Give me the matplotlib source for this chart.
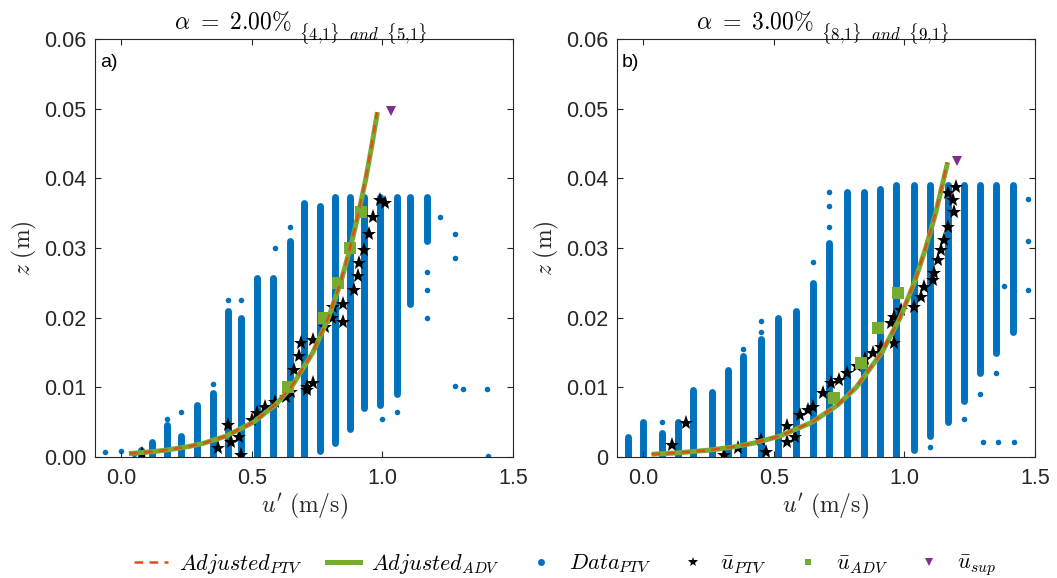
import matplotlib
matplotlib.use("Agg")
import matplotlib.pyplot as plt
from matplotlib.lines import Line2D

plt.rcParams["font.family"] = ["Liberation Sans", "DejaVu Sans"]
plt.rcParams["mathtext.fontset"] = "cm"

BLUE = "#0072BD"
ORANGE = "#D95319"
GREEN = "#77AC30"
PURPLE = "#7E2F8E"
INK = "#262626"

# ---------------- panel a) alpha = 2.00 % ----------------
a_fit_z = [0.0005, 0.00075, 0.001, 0.0015, 0.002, 0.003, 0.005, 0.0075, 0.01,
           0.015, 0.02, 0.025, 0.03, 0.035, 0.04, 0.045, 0.0495]
a_fit_ptv_u = [0.03, 0.114, 0.173, 0.257, 0.317, 0.40, 0.506, 0.59, 0.65,
               0.733, 0.793, 0.839, 0.876, 0.908, 0.936, 0.960, 0.98]
a_fit_adv_u = [0.03, 0.115, 0.174, 0.258, 0.318, 0.401, 0.507, 0.591, 0.651,
               0.734, 0.794, 0.840, 0.877, 0.909, 0.937, 0.961, 0.981]

# PTV measurement columns: position u and vertical extent
a_col_u = [0.076, 0.12, 0.175, 0.23, 0.29, 0.35, 0.41, 0.46, 0.52, 0.58, 0.645,
           0.70, 0.76, 0.82, 0.875, 0.93, 0.99, 1.055, 1.105, 1.17]
a_col_zlo = [0.0, 0.0, 0.0, 0.0, 0.0, 0.0, 0.0, 0.0, 0.0, 0.0, 0.0,
             0.0, 0.0008, 0.002, 0.004, 0.007, 0.0075, 0.009, 0.022, 0.031]
a_col_zhi = [0.001, 0.0022, 0.0046, 0.003, 0.0075, 0.0092, 0.021, 0.020, 0.0257,
             0.0257, 0.031, 0.0364, 0.036, 0.0373, 0.0373, 0.0373, 0.0373, 0.0373,
             0.0373, 0.0373]
# isolated PTV samples
a_pts_u = [-0.06, 0.0, 0.05, 0.175, 0.23, 0.35, 0.46, 0.59, 0.41, 1.17, 1.17, 1.17,
           1.22, 1.28, 1.28, 1.28, 1.31, 1.40, 1.405, 1.055, 1.0, 0.645]
a_pts_z = [0.0007, 0.0009, 0.0004, 0.0055, 0.0065, 0.0105, 0.0225, 0.030, 0.0225,
           0.0265, 0.024, 0.020, 0.0345, 0.032, 0.0285, 0.0102, 0.0098, 0.0097,
           0.0002, 0.0065, 0.0055, 0.033]

a_star_u = [0.08, 0.37, 0.46, 0.41, 0.42, 0.45, 0.50, 0.52, 0.55, 0.59, 0.63, 0.65,
            0.71, 0.735, 0.71, 0.66, 0.68, 0.69, 0.735, 0.78, 0.806, 0.81, 0.85,
            0.85, 0.89, 0.905, 0.91, 0.93, 0.95, 0.965, 0.99, 1.01]
a_star_z = [0.0005, 0.0013, 0.0003, 0.0046, 0.0022, 0.0029, 0.0053, 0.0063, 0.0072,
            0.0079, 0.0086, 0.0093, 0.010, 0.0106, 0.0096, 0.0125, 0.0145, 0.0164,
            0.0168, 0.0187, 0.020, 0.0215, 0.0194, 0.022, 0.024, 0.026, 0.0278,
            0.0297, 0.032, 0.0345, 0.0369, 0.0364]

a_adv_u = [0.64, 0.776, 0.83, 0.876, 0.92]
a_adv_z = [0.0101, 0.020, 0.025, 0.030, 0.0352]

a_sup_u = [1.034]
a_sup_z = [0.0497]

# ---------------- panel b) alpha = 3.00 % ----------------
b_fit_z = [0.0004, 0.0006, 0.001, 0.0015, 0.002, 0.003, 0.005, 0.0075, 0.01,
           0.015, 0.02, 0.025, 0.03, 0.035, 0.0423]
b_fit_ptv_u = [0.032, 0.131, 0.255, 0.354, 0.423, 0.522, 0.646, 0.745, 0.815,
               0.913, 0.983, 1.037, 1.081, 1.119, 1.165]
b_fit_adv_u = [0.033, 0.132, 0.256, 0.355, 0.424, 0.523, 0.647, 0.746, 0.816,
               0.914, 0.984, 1.038, 1.082, 1.120, 1.166]

b_col_u = [-0.058, 0.0, 0.073, 0.134, 0.19, 0.265, 0.326, 0.384, 0.45, 0.518,
           0.584, 0.649, 0.71, 0.78, 0.845, 0.906, 0.97, 1.037, 1.10, 1.167,
           1.23, 1.29, 1.35, 1.417]
b_col_zlo = [0.0, 0.0, 0.0, 0.0, 0.0, 0.0, 0.0, 0.0, 0.0, 0.0,
             0.0, 0.0, 0.0, 0.0, 0.0, 0.0, 0.0, 0.001, 0.003, 0.005,
             0.008, 0.012, 0.015, 0.018]
b_col_zhi = [0.0029, 0.005, 0.0035, 0.005, 0.0096, 0.0094, 0.0125, 0.0145, 0.017,
             0.020, 0.021, 0.025, 0.0307, 0.038, 0.038, 0.0385, 0.039, 0.039,
             0.039, 0.039, 0.039, 0.039, 0.039, 0.039]
b_pts_u = [0.073, 0.073, 0.45, 0.45, 0.384, 0.649, 0.71, 0.71, 0.71, 1.475, 1.475,
           1.475, 1.30, 1.36, 1.42, 1.38, 1.42, 1.23, 1.29, 1.35, 1.10]
b_pts_z = [0.005, 0.0025, 0.018, 0.0195, 0.0155, 0.028, 0.033, 0.036, 0.038,
           0.024, 0.031, 0.037, 0.0022, 0.0022, 0.0022, 0.0245, 0.0238, 0.0055,
           0.009, 0.012, 0.0015]

b_star_u = [0.11, 0.165, 0.31, 0.365, 0.45, 0.47, 0.55, 0.55, 0.58, 0.60, 0.63,
            0.65, 0.69, 0.72, 0.75, 0.78, 0.82, 0.85, 0.88, 0.91, 0.96, 0.948,
            0.96, 0.987, 1.037, 1.064, 1.075, 1.11, 1.114, 1.13, 1.14, 1.152,
            1.168, 1.19, 1.187, 1.168, 1.198]
b_star_z = [0.0017, 0.0049, 0.0003, 0.0013, 0.0024, 0.0007, 0.0045, 0.0022, 0.0029,
            0.006, 0.0067, 0.0072, 0.0092, 0.0106, 0.011, 0.012, 0.013, 0.014,
            0.015, 0.0158, 0.0164, 0.0192, 0.0201, 0.0211, 0.0215, 0.023, 0.0244,
            0.0254, 0.0264, 0.0283, 0.0297, 0.0311, 0.033, 0.0352, 0.0369, 0.0379,
            0.0388]

b_adv_u = [0.73, 0.835, 0.90, 0.975]
b_adv_z = [0.0085, 0.0135, 0.0185, 0.0235]

b_sup_u = [1.20]
b_sup_z = [0.0425]

Y_TICKS = [0.0, 0.01, 0.02, 0.03, 0.04, 0.05, 0.06]
X_TICKS = [0.0, 0.5, 1.0, 1.5]
X_TICK_LABELS = ["0.0", "0.5", "1.0", "1.5"]
A_Y_LABELS = ["0.00", "0.01", "0.02", "0.03", "0.04", "0.05", "0.06"]
B_Y_LABELS = ["0", "0.01", "0.02", "0.03", "0.04", "0.05", "0.06"]

fig = plt.figure(figsize=(10.57, 5.78), dpi=100)
ax_a = fig.add_axes([0.0899, 0.2093, 0.3954, 0.7232])
ax_b = fig.add_axes([0.5837, 0.2093, 0.3954, 0.7232])


def draw_panel(ax, col_u, col_zlo, col_zhi, pts_u, pts_z, star_u, star_z,
               adv_u, adv_z, fit_z, fit_ptv_u, fit_adv_u, sup_u, sup_z,
               ylabels, head, sub, tag):
    ax.vlines(col_u, col_zlo, col_zhi, colors=BLUE, linewidth=5.0,
              capstyle="round", zorder=1)
    ax.plot(pts_u, pts_z, "o", color=BLUE, markersize=4,
            markeredgewidth=0, zorder=1)
    ax.plot(star_u, star_z, "*", color="black", markersize=11,
            markeredgewidth=0, zorder=2)
    ax.plot(adv_u, adv_z, "s", color=GREEN, markersize=8,
            markeredgewidth=0, zorder=3)
    ax.plot(fit_adv_u, fit_z, "-", color=GREEN, linewidth=3.6,
            solid_capstyle="butt", zorder=4)
    ax.plot(fit_ptv_u, fit_z, color=ORANGE, linewidth=1.8,
            linestyle=(0, (3.5, 2.5)), zorder=5)
    ax.plot(sup_u, sup_z, "v", color=PURPLE, markersize=7,
            markeredgewidth=0, zorder=6)

    ax.set_xlim(-0.1, 1.5)
    ax.set_ylim(0.0, 0.06)
    ax.set_xticks(X_TICKS)
    ax.set_xticklabels(X_TICK_LABELS)
    ax.set_yticks(Y_TICKS)
    ax.set_yticklabels(ylabels)
    ax.tick_params(direction="in", length=4, width=0.8, top=True, right=True,
                   labelsize=15.5, colors=INK)
    ax.tick_params(axis="x", pad=8)
    ax.tick_params(axis="y", pad=6)
    for s in ax.spines.values():
        s.set_color(INK)
        s.set_linewidth(0.8)
    ax.set_xlabel(r"$u'\ \mathrm{(m/s)}$", fontsize=17, color=INK, labelpad=2)
    ax.set_ylabel(r"$z\ \mathrm{(m)}$", fontsize=17, color=INK, labelpad=4)
    # title: large head, smaller index annotation on a lower baseline
    t1 = ax.annotate(head, xy=(0.19, 1.0), xycoords="axes fraction",
                     xytext=(0, 7), textcoords="offset points",
                     ha="left", va="baseline", fontsize=17)
    ax.annotate(sub, xy=(1.0, 0.0), xycoords=t1, xytext=(5, -4),
                textcoords="offset points", ha="left", va="baseline",
                fontsize=12)
    ax.text(0.012, 0.965, tag, transform=ax.transAxes, ha="left", va="top",
            fontsize=14)


draw_panel(ax_a, a_col_u, a_col_zlo, a_col_zhi, a_pts_u, a_pts_z, a_star_u,
           a_star_z, a_adv_u, a_adv_z, a_fit_z, a_fit_ptv_u, a_fit_adv_u,
           a_sup_u, a_sup_z, A_Y_LABELS,
           r"$\alpha\ =\ 2.00\%$", r"$\{4{,}1\}\ \ and\ \ \{5{,}1\}$", "a)")
draw_panel(ax_b, b_col_u, b_col_zlo, b_col_zhi, b_pts_u, b_pts_z, b_star_u,
           b_star_z, b_adv_u, b_adv_z, b_fit_z, b_fit_ptv_u, b_fit_adv_u,
           b_sup_u, b_sup_z, B_Y_LABELS,
           r"$\alpha\ =\ 3.00\%$", r"$\{8{,}1\}\ \ and\ \ \{9{,}1\}$", "b)")

handles = [
    Line2D([], [], color=ORANGE, linewidth=1.8, linestyle=(0, (3.5, 2.5))),
    Line2D([], [], color=GREEN, linewidth=3.6),
    Line2D([], [], color=BLUE, marker="o", linestyle="none", markersize=5,
           markeredgewidth=0),
    Line2D([], [], color="black", marker="*", linestyle="none", markersize=7,
           markeredgewidth=0),
    Line2D([], [], color=GREEN, marker="s", linestyle="none", markersize=5,
           markeredgewidth=0),
    Line2D([], [], color=PURPLE, marker="v", linestyle="none", markersize=6,
           markeredgewidth=0),
]
labels = [r"$Adjusted_{PTV}$", r"$Adjusted_{ADV}$", r"$Data_{PTV}$",
          r"$\bar{u}_{PTV}$", r"$\bar{u}_{ADV}$", r"$\bar{u}_{sup}$"]
fig.legend(handles, labels, loc="center", bbox_to_anchor=(0.535, 0.022),
           ncol=6, frameon=False, fontsize=16, handlelength=1.5,
           handletextpad=0.5, columnspacing=1.1)

fig.savefig("out.png", dpi=100)
